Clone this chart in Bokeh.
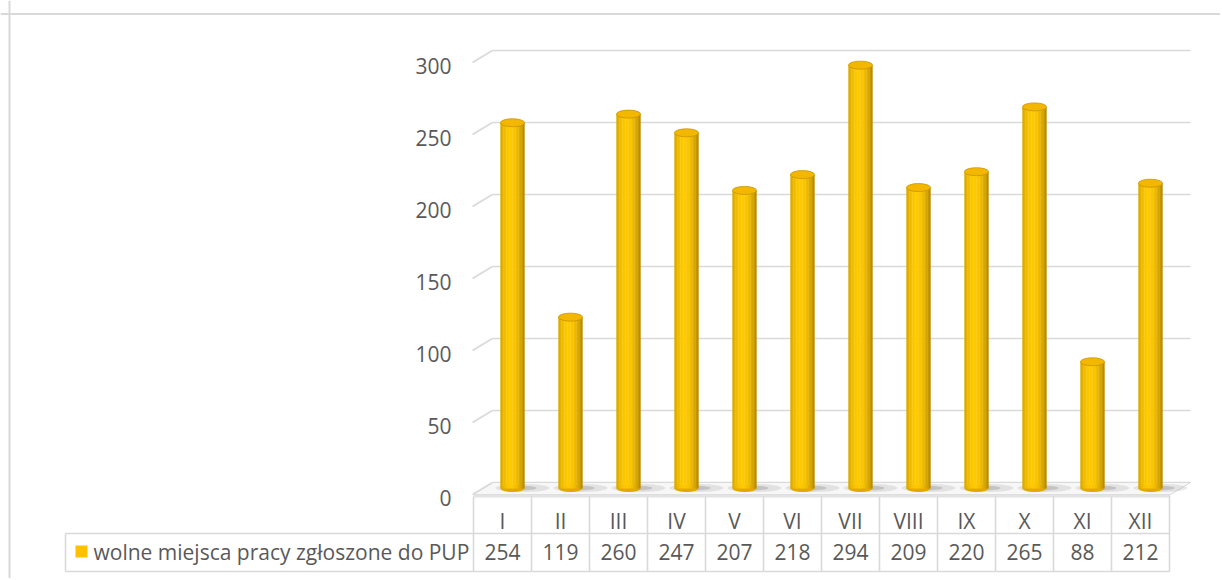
import math
from bokeh.plotting import figure
from bokeh.models import Range1d, Span, ColumnDataSource
from bokeh.core.properties import value
from bokeh.embed import file_html
from bokeh.resources import INLINE

# ---- data ----
months = ["I", "II", "III", "IV", "V", "VI", "VII", "VIII", "IX", "X", "XI", "XII"]
vacancies = [254, 119, 260, 247, 207, 218, 294, 209, 220, 265, 88, 212]
y_ticks = [0, 50, 100, 150, 200, 250, 300]
series_name = "wolne miejsca pracy zgłoszone do PUP"

# ---- geometry helpers (page pixel -> data) ----
W, H = 1220, 578
OFF = 0.0         # page offset of the figure
CAT0 = 502.0      # page x of first category centre (front)
COLW = 58.0       # page px per category
ZERO = 488.0      # page y of value 0 on bar plane
PXU = 1.44        # page px per value unit


def X(px):
    return (px - CAT0) / COLW


def Y(py):
    return (ZERO - py) / PXU


DEPTH_Y = 6.0 / PXU      # half depth (value units)
BAR_DX = 10.0 / COLW     # bar plane x shift

FONT = "Open Sans"
TXT = "#595959"
GRID = "#d9d9d9"
FS = "21px"

p = figure(width=W, height=H, output_backend="svg", toolbar_location=None,
           x_range=Range1d(X(OFF), X(OFF + W)), y_range=Range1d(Y(OFF + H), Y(OFF)),
           x_axis_location=None, y_axis_location=None, min_border=0)
p.grid.visible = False
p.outline_line_color = None
p.background_fill_color = "white"
p.border_fill_color = "white"

# chart area border (top & left)
p.add_layout(Span(location=Y(13.5), dimension="width", line_color=GRID, line_width=2))
p.add_layout(Span(location=X(9), dimension="height", line_color=GRID, line_width=2))

# ---- back wall gridlines ----
xl_front, xl_back, xr_back = X(472), X(492), X(1190)
for t in y_ticks:
    p.line([xl_front, xl_back], [t - DEPTH_Y, t + DEPTH_Y], line_color=GRID, line_width=1.6)
    p.line([xl_back, xr_back], [t + DEPTH_Y, t + DEPTH_Y], line_color=GRID, line_width=1.6)

# y tick labels
p.text(x=[X(451)] * len(y_ticks), y=[t - DEPTH_Y - 3 / PXU for t in y_ticks],
       text=[str(t) for t in y_ticks], text_align="right", text_baseline="middle",
       text_font=value(FONT), text_font_size=FS, text_color=TXT)

# ---- floor ----
fx = [X(473), X(1170), X(1190), X(493)]
fy = [-DEPTH_Y, -DEPTH_Y, DEPTH_Y, DEPTH_Y]
p.patch(fx, fy, fill_color="#f7f7f7", line_color=GRID, line_width=1)
p.patch([X(473), X(1170), X(1170), X(473)],
        [-DEPTH_Y, -DEPTH_Y, -DEPTH_Y - 3 / PXU, -DEPTH_Y - 3 / PXU],
        fill_color="#e3e3e3", line_color=None)

xs = [i + BAR_DX for i in range(len(months))]

# shadows
p.ellipse(x=[x + 10 / COLW for x in xs], y=[0.3] * len(xs), width=54, height=8,
          width_units="screen", height_units="screen",
          fill_color="#9a9a9a", fill_alpha=0.22, line_color=None)
p.ellipse(x=[x + 6 / COLW for x in xs], y=[0.3] * len(xs), width=36, height=5,
          width_units="screen", height_units="screen",
          fill_color="#7a7a7a", fill_alpha=0.3, line_color=None)

# ---- cylinder bars ----
BW = 24.0 / COLW
N = 16
dark = (176, 130, 0)
bright = (255, 202, 0)


def shade(t):
    f = max(0.0, math.cos((t + 0.15) * math.pi / 2.3))
    f = f ** 0.8
    r = int(dark[0] + (bright[0] - dark[0]) * f)
    g = int(dark[1] + (bright[1] - dark[1]) * f)
    b = int(dark[2] + (bright[2] - dark[2]) * f)
    return "#%02x%02x%02x" % (r, g, b)


# bottom caps
p.ellipse(x=xs, y=[0] * len(xs), width=24, height=7, width_units="screen",
          height_units="screen", fill_color="#e0a800", line_color=None)

sw = BW / N
for k in range(N):
    t = -1 + (k + 0.5) * 2 / N
    off = -BW / 2 + (k + 0.5) * sw
    src = ColumnDataSource(dict(x=[x + off for x in xs], top=vacancies))
    p.vbar(x="x", top="top", bottom=0, width=sw * 1.25, source=src,
           fill_color=shade(t), line_color=None)

# top caps
p.ellipse(x=xs, y=vacancies, width=24, height=8, width_units="screen",
          height_units="screen", fill_color="#f4b700", line_color="#c99500", line_width=0.8)

# ---- data table ----
yt, ym, yb = Y(496), Y(533), Y(571)
x_leg, x12 = X(65), X(1169)
p.line([x_leg, x12], [ym, ym], line_color=GRID, line_width=1.6)
p.line([x_leg, x12], [yb, yb], line_color=GRID, line_width=1.6)
p.line([x_leg, x_leg], [ym, yb], line_color=GRID, line_width=1.6)
for k in range(len(months) + 1):
    xx = k - 0.5
    p.line([xx, xx], [yt, yb], line_color=GRID, line_width=1.6)

cats = list(range(len(months)))
p.text(x=cats, y=[Y(520)] * len(cats), text=months, text_align="center",
       text_baseline="middle", text_font=value(FONT), text_font_size=FS, text_color=TXT)
p.text(x=cats, y=[Y(551)] * len(cats), text=[str(v) for v in vacancies], text_align="center",
       text_baseline="middle", text_font=value(FONT), text_font_size=FS, text_color=TXT)

# legend key + name
p.scatter(x=[X(81)], y=[Y(551)], marker="square", size=12, fill_color="#ffc000", line_color=None)
p.text(x=[X(93)], y=[Y(551)], text=[series_name], text_align="left", text_baseline="middle",
       text_font=value(FONT), text_font_size=FS, text_color=TXT)

open("out.html", "w").write(file_html(p, INLINE))
